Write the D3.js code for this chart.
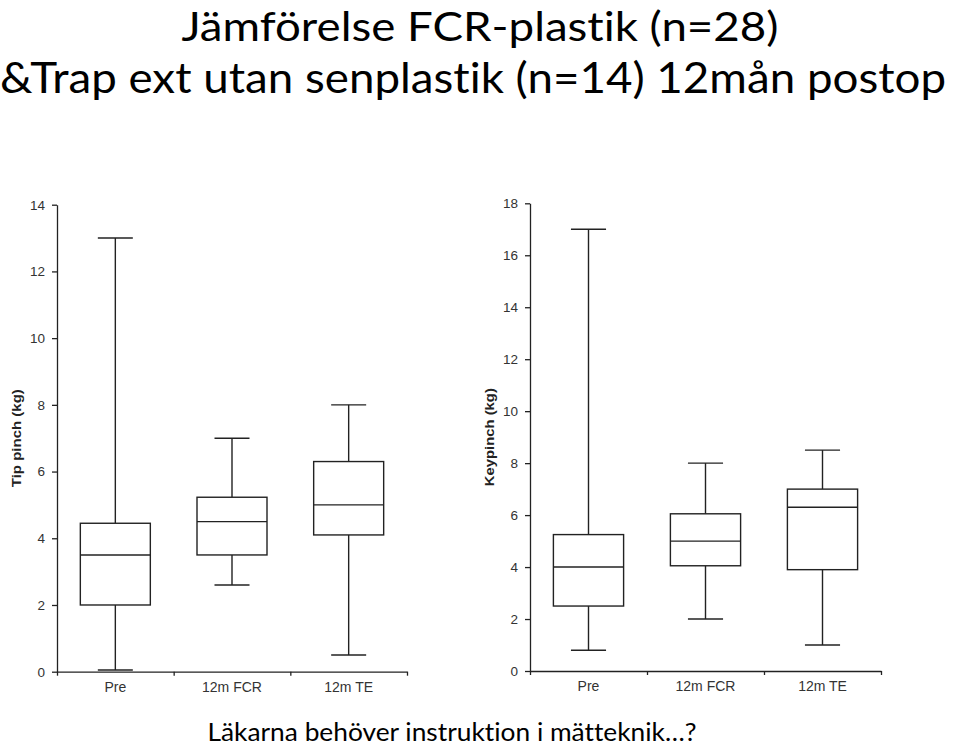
<!DOCTYPE html>
<html><head><meta charset="utf-8">
<script src="https://cdn.jsdelivr.net/npm/d3@7"></script>
<style>body{margin:0;background:#fff}svg{display:block}text{font-variant-ligatures:none;font-feature-settings:"liga" 0,"clig" 0}</style>
</head><body><svg id="c" width="960" height="747"></svg>
<script>
const categories = ["Pre", "12m FCR", "12m TE"];
// [min, q1, median, q3, max]
const tipPinch = [
  [0.05, 2.0, 3.5, 4.45, 13.0],
  [2.6, 3.5, 4.5, 5.23, 7.0],
  [0.5, 4.1, 5.0, 6.3, 8.0]
];
const keyPinch = [
  [0.8, 2.5, 4.0, 5.25, 17.0],
  [2.0, 4.05, 5.0, 6.05, 8.0],
  [1.0, 3.9, 6.3, 7.0, 8.5]
];
const tipTicks = [0, 2, 4, 6, 8, 10, 12, 14];
const keyTicks = [0, 2, 4, 6, 8, 10, 12, 14, 16, 18];
const titleLines = ["Jämförelse FCR-plastik (n=28)", "&Trap ext utan senplastik (n=14) 12mån postop"];
const caption = "Läkarna behöver instruktion i mätteknik…?";

const svg = d3.select("#c");
const titleFont = "Lato, 'Open Sans', sans-serif";
const axisFont = "'Liberation Sans', Arial, sans-serif";

svg.append("text").attr("x", 480).attr("y", 40.5).attr("text-anchor", "middle")
  .attr("font-family", titleFont).attr("font-size", 41).attr("fill", "#000")
  .attr("textLength", 597).attr("lengthAdjust", "spacingAndGlyphs").text(titleLines[0]);
svg.append("text").attr("x", 473).attr("y", 93).attr("text-anchor", "middle")
  .attr("font-family", titleFont).attr("font-size", 43).attr("fill", "#000")
  .attr("textLength", 946).attr("lengthAdjust", "spacingAndGlyphs").text(titleLines[1]);
svg.append("text").attr("x", 452).attr("y", 741).attr("text-anchor", "middle")
  .attr("font-family", titleFont).attr("font-size", 25).attr("fill", "#000")
  .attr("textLength", 489).attr("lengthAdjust", "spacingAndGlyphs").text(caption);

function panel(opts) {
  const { data, ticks, yMax, x0, x1, yTop, yBot, label, labelX } = opts;
  const g = svg.append("g");
  const y = d3.scaleLinear().domain([0, yMax]).range([yBot, yTop]);
  const xb = d3.scaleBand().domain(categories).range([x0, x1]).padding(0);
  const xl = d3.scaleLinear().domain([0, categories.length]).range([x0, x1]);
  const bw = xb.bandwidth() * 0.6, cw = xb.bandwidth() * 0.3;

  const ya = g.append("g").attr("transform", `translate(${x0},0)`)
    .call(d3.axisLeft(y).tickValues(ticks).tickSize(5).tickSizeOuter(0).tickPadding(7).tickFormat(d3.format("d")));
  ya.select(".domain").attr("stroke", "#222").attr("stroke-width", 1.3);
  ya.selectAll(".tick line").attr("stroke", "#222").attr("stroke-width", 1.3);
  ya.selectAll("text").attr("font-family", axisFont).attr("font-size", 13.5).attr("fill", "#333");

  const xa = g.append("g").attr("transform", `translate(0,${yBot})`)
    .call(d3.axisBottom(xl).tickValues(d3.range(0, categories.length + 1)).tickSize(4).tickSizeOuter(0).tickFormat(""));
  xa.select(".domain").attr("stroke", "#222").attr("stroke-width", 1.3);
  xa.selectAll(".tick line").attr("stroke", "#222").attr("stroke-width", 1.3);

  const xt = g.append("g").attr("transform", `translate(0,${yBot})`)
    .call(d3.axisBottom(xb).tickSize(0).tickPadding(10));
  xt.select(".domain").remove();
  xt.selectAll("text").attr("font-family", axisFont).attr("font-size", 14).attr("fill", "#333");

  g.append("text").attr("transform", `translate(${labelX},${(yTop + yBot) / 2}) rotate(-90)`)
    .attr("text-anchor", "middle").attr("font-family", axisFont)
    .attr("font-weight", "bold").attr("font-size", 13.5).attr("fill", "#222")
    .attr("textLength", 98).attr("lengthAdjust", "spacingAndGlyphs").text(label);

  const boxes = g.selectAll(".box").data(data.map((d, i) => ({ c: categories[i], v: d })))
    .join("g").attr("class", "box")
    .attr("stroke", "#222").attr("stroke-width", 1.4).attr("fill", "none");
  boxes.each(function (d) {
    const s = d3.select(this);
    const cx = xb(d.c) + xb.bandwidth() / 2;
    const [mn, q1, md, q3, mx] = d.v;
    s.append("line").attr("x1", cx).attr("x2", cx).attr("y1", y(q3)).attr("y2", y(mx));
    s.append("line").attr("x1", cx).attr("x2", cx).attr("y1", y(mn)).attr("y2", y(q1));
    s.append("line").attr("x1", cx - cw / 2).attr("x2", cx + cw / 2).attr("y1", y(mx)).attr("y2", y(mx));
    s.append("line").attr("x1", cx - cw / 2).attr("x2", cx + cw / 2).attr("y1", y(mn)).attr("y2", y(mn));
    s.append("rect").attr("x", cx - bw / 2).attr("width", bw).attr("y", y(q3)).attr("height", y(q1) - y(q3)).attr("fill", "#fff");
    s.append("line").attr("x1", cx - bw / 2).attr("x2", cx + bw / 2).attr("y1", y(md)).attr("y2", y(md));
  });
}

panel({ data: tipPinch, ticks: tipTicks, yMax: 14, x0: 57, x1: 407, yTop: 204.7, yBot: 671.7, label: "Tip pinch (kg)", labelX: 21 });
panel({ data: keyPinch, ticks: keyTicks, yMax: 18, x0: 530, x1: 881, yTop: 203.3, yBot: 671, label: "Keypinch (kg)", labelX: 494 });
</script></body></html>
